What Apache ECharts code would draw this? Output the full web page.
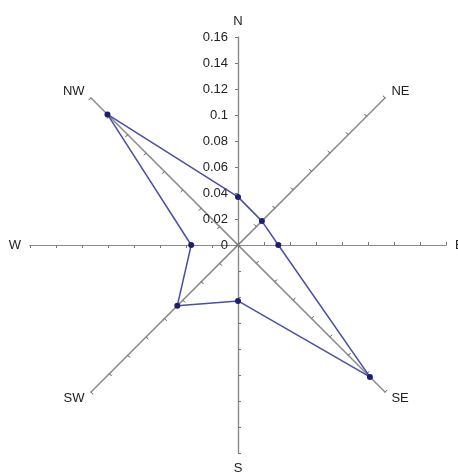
<!DOCTYPE html>
<html><head><meta charset="utf-8">
<script src="https://cdn.jsdelivr.net/npm/echarts@6/dist/echarts.min.js"></script>
<style>html,body{margin:0;padding:0;background:#fff}#c{width:458px;height:474px}</style>
</head><body><div id="c"></div>
<script>
// Directions in ECharts radar order (counter-clockwise from top)
const directions = ['N', 'NW', 'W', 'SW', 'S', 'SE', 'E', 'NE'];
const frequency = [0.037, 0.142, 0.036, 0.066, 0.043, 0.1435, 0.031, 0.026];
const axisMax = 0.16;
const tickStep = 0.02;

const baseRadar = {
  center: [238, 245],
  radius: 208,
  startAngle: 90,
  splitNumber: axisMax / tickStep,
  indicator: directions.map(d => ({ name: d, min: 0, max: axisMax })),
  nameGap: 9,
  axisLine: { lineStyle: { color: '#8a8a8a', width: 1.2 } },
  splitLine: { show: false },
  splitArea: { show: false }
};

const chart = echarts.init(document.getElementById('c'));
chart.setOption({
  animation: false,
  backgroundColor: '#fff',
  textStyle: { fontFamily: 'Liberation Sans, Arial, sans-serif' },
  radar: [
    Object.assign({}, baseRadar, {
      axisName: { color: '#222', fontSize: 13, fontFamily: 'Liberation Sans, Arial, sans-serif' },
      axisTick: { show: true, length: 3, lineStyle: { color: '#777' } }
    }),
    Object.assign({}, baseRadar, {
      axisName: { show: false },
      axisTick: { show: true, inside: true, length: 3, lineStyle: { color: '#777' } }
    })
  ],
  polar: { center: [238, 245], radius: 208 },
  angleAxis: { type: 'value', startAngle: 90, show: false, min: 0, max: 360 },
  radiusAxis: {
    type: 'value', min: 0, max: axisMax, interval: tickStep,
    axisLine: { show: false }, axisTick: { show: false }, splitLine: { show: false },
    axisLabel: { color: '#222', fontSize: 13, margin: 10 }
  },
  series: [{
    type: 'radar',
    radarIndex: 0,
    symbol: 'circle',
    symbolSize: 6,
    itemStyle: { color: '#1b1f6e' },
    lineStyle: { color: '#4a4ea6', width: 1.5 },
    data: [{ value: frequency }]
  }]
});
</script></body></html>
